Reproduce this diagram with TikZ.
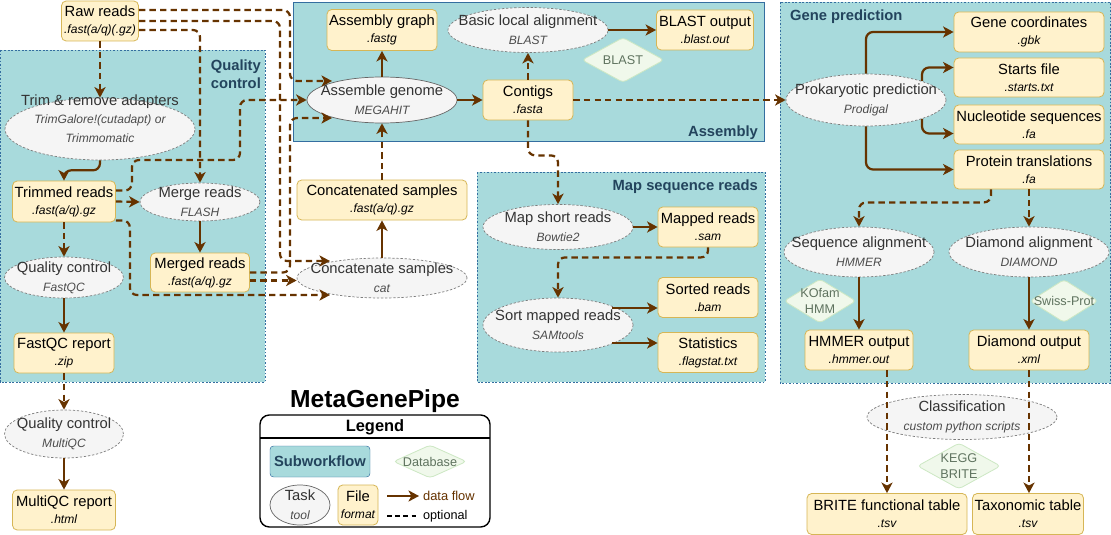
\documentclass[tikz,border=0pt]{standalone}
\usepackage{fontspec}
\setmainfont{Liberation Sans}
\usetikzlibrary{shapes.geometric,arrows.meta,calc}

\definecolor{grpfill}{RGB}{168,218,220}
\definecolor{grpline}{RGB}{52,110,160}
\definecolor{grptext}{RGB}{35,68,93}
\definecolor{filefill}{RGB}{255,242,204}
\definecolor{fileline}{RGB}{214,182,86}
\definecolor{taskfill}{RGB}{245,245,245}
\definecolor{taskline}{RGB}{102,102,102}
\definecolor{dbfill}{RGB}{240,248,235}
\definecolor{dbline}{RGB}{205,232,196}
\definecolor{dbtext}{RGB}{95,115,95}
\definecolor{flowc}{RGB}{102,51,0}

\newcommand{\fileext}[1]{{\fontsize{10.3}{12}\selectfont\itshape #1}}
\newcommand{\toolname}[1]{{\fontsize{10.3}{12}\selectfont\itshape\color{black!70}#1}}

\begin{document}
\begin{tikzpicture}[x=0.03cm, y=-0.03cm,
    font=\fontsize{12.6}{14.5}\selectfont,
    wh/.style 2 args={minimum width=#1*0.03cm, minimum height=#2*0.03cm},
    file/.style={draw=fileline, fill=filefill, rounded corners=4pt, line width=0.7pt, align=center, inner sep=0pt},
    task/.style={ellipse, draw=taskline, fill=taskfill, line width=0.6pt, inner sep=0pt},
    opttask/.style={task, draw=taskline!85, dash pattern=on 2pt off 1.5pt},
    tl/.style={align=center, text=black!80, font=\fontsize{12.6}{16}\selectfont},
    db/.style={diamond, draw=dbline, fill=dbfill, rounded corners=3pt, inner sep=0pt, line width=0.7pt},
    dbl/.style={align=center, text=dbtext, font=\fontsize{10.8}{13}\selectfont},
    grp/.style={fill=grpfill, draw=grpline, line width=0.5pt, dash pattern=on 1.5pt off 1.5pt},
    grptitle/.style={font=\fontsize{12.6}{15}\selectfont\bfseries, text=grptext, align=center},
    flow/.style={draw=flowc, line width=1.9pt, -{Stealth[length=9pt, width=9.5pt, inset=2.5pt]}, rounded corners=6pt},
    opt/.style={flow, dash pattern=on 5.5pt off 3.5pt},
  ]
  \useasboundingbox (0,0) rectangle (1111,535);

  % subworkflows
  \draw[grp] (0,50) rectangle (265,382);
  \draw[grp, solid, line width=0.7pt] (293,2) rectangle (764,141);
  \draw[grp] (477,172) rectangle (765,382);
  \draw[grp] (780,2) rectangle (1110.5,383);
  \node[grptitle, anchor=north east] (qctitle) at (265,56) {Quality\\control};
  \node[grptitle, anchor=base east] (astitle) at (762,137) {Assembly};
  \node[grptitle, anchor=base east] (mstitle) at (762,190) {Map sequence reads};
  \node[grptitle, anchor=base west] (gptitle) at (786,21) {Gene prediction};

  % quality control
  \node[file, wh={77}{40}] (raw) at (100,21) {Raw reads\\\fileext{.fast(a/q)(.gz)}};
  \node[opttask, wh={190}{62}, label={[tl, yshift=9pt]center:Trim \& remove adapters\\\toolname{TrimGalore!(cutadapt) or}\\\toolname{Trimmomatic}}] (trim) at (100,129) {};
  \node[file, wh={103}{41}] (trimmed) at (64,201.5) {Trimmed reads\\\fileext{.fast(a/q).gz}};
  \node[opttask, wh={120}{38}, label={[tl]center:Merge reads\\\toolname{FLASH}}] (merge) at (200,202) {};
  \node[opttask, wh={119}{41}, label={[tl]center:Quality control\\\toolname{FastQC}}] (fastqc) at (64,277.5) {};
  \node[file, wh={99}{39}] (merged) at (200,272.5) {Merged reads\\\fileext{.fast(a/q).gz}};
  \node[file, wh={100}{40}] (qcrep) at (64,353) {FastQC report\\\fileext{.zip}};
  \node[opttask, wh={119}{48}, label={[tl]center:Quality control\\\toolname{MultiQC}}] (multiqc) at (64,434) {};
  \node[file, wh={103}{40}] (mqcrep) at (64,510) {MultiQC report\\\fileext{.html}};

  % concatenation
  \node[file, wh={170}{40}] (catd) at (382,200) {Concatenated samples\\\fileext{.fast(a/q).gz}};
  \node[opttask, wh={170}{40}, label={[tl]center:Concatenate samples\\\toolname{cat}}] (cat) at (382,278) {};

  % assembly
  \node[task, wh={150}{46}, label={[tl]center:Assemble genome\\\toolname{MEGAHIT}}] (asm) at (382,100) {};
  \node[file, wh={110}{41}] (agraph) at (382,30) {Assembly graph\\\fileext{.fastg}};
  \node[opttask, wh={160}{45}, label={[tl]center:Basic local alignment\\\toolname{BLAST}}] (blastn) at (528,30) {};
  \node[file, wh={97}{40}] (blastout) at (705,30) {BLAST output\\\fileext{.blast.out}};
  \node[db, wh={82}{45}, label={[dbl]center:BLAST}] (blastdb) at (623,60) {};
  \node[file, wh={90}{40}] (contigs) at (528,100) {Contigs\\\fileext{.fasta}};

  % mapping
  \node[opttask, wh={150}{45}, label={[tl]center:Map short reads\\\toolname{Bowtie2}}] (mapsr) at (558,227) {};
  \node[file, wh={100}{40}] (mapped) at (708,227) {Mapped reads\\\fileext{.sam}};
  \node[opttask, wh={150}{54}, label={[tl]center:Sort mapped reads\\\toolname{SAMtools}}] (sortr) at (558,325) {};
  \node[file, wh={100}{40}] (sorted) at (708,297.5) {Sorted reads\\\fileext{.bam}};
  \node[file, wh={100}{40}] (stats) at (708,352.5) {Statistics\\\fileext{.flagstat.txt}};

  % gene prediction
  \node[opttask, wh={160}{52}, label={[tl]center:Prokaryotic prediction\\\toolname{Prodigal}}] (prod) at (866,100) {};
  \node[file, wh={150}{40}] (genec) at (1029,32) {Gene coordinates\\\fileext{.gbk}};
  \node[file, wh={150}{39}] (starts) at (1029,77.5) {Starts file\\\fileext{.starts.txt}};
  \node[file, wh={150}{39}] (nucl) at (1029,124.5) {Nucleotide sequences\\\fileext{.fa}};
  \node[file, wh={150}{39}] (prot) at (1029,169.5) {Protein translations\\\fileext{.fa}};
  \node[opttask, wh={150}{50}, label={[tl]center:Sequence alignment\\\toolname{HMMER}}] (seqal) at (859,252) {};
  \node[opttask, wh={160}{50}, label={[tl]center:Diamond alignment\\\toolname{DIAMOND}}] (diamal) at (1029,252) {};
  \node[db, wh={72}{44}, label={[dbl]center:KOfam\\HMM}] (kofam) at (820,301) {};
  \node[db, wh={68}{43}, label={[dbl]center:Swiss-Prot}] (swiss) at (1064,301) {};
  \node[file, wh={108}{40}] (hmmer) at (859,350) {HMMER output\\\fileext{.hmmer.out}};
  \node[file, wh={120}{40}] (diamout) at (1029,350) {Diamond output\\\fileext{.xml}};
  \node[opttask, wh={190}{45}, label={[tl]center:Classification\\\toolname{custom python scripts}}] (classif) at (962,417) {};
  \node[db, wh={83}{46}, label={[dbl]center:KEGG\\BRITE}] (kegg) at (959,466) {};
  \node[file, wh={160}{41}] (brite) at (887,514) {BRITE functional table\\\fileext{.tsv}};
  \node[file, wh={111}{41}] (taxo) at (1028,514) {Taxonomic table\\\fileext{.tsv}};

  % legend
  \node[font=\fontsize{21}{24}\selectfont\bfseries] (title) at (375,401) {MetaGenePipe};
  \draw[rounded corners=8pt, line width=1.2pt, fill=white] (260,415) rectangle (490,527);
  \draw[line width=1.2pt] (260,438) -- (490,438);
  \node[font=\fontsize{14}{16}\selectfont\bfseries] (lgtitle) at (375,427) {Legend};
  \node[draw=grpline, fill=grpfill, rounded corners=3pt, wh={100}{31}, font=\fontsize{12.6}{15}\selectfont\bfseries, text=grptext] (lgsub) at (320,461.5) {Subworkflow};
  \node[db, wh={73}{33}, label={[dbl]center:Database}] (lgdb) at (430,461.5) {};
  \node[task, wh={60}{40}, label={[tl]center:Task\\\toolname{tool}}] (lgtask) at (300,505) {};
  \node[file, wh={40}{40}] (lgfile) at (358,505) {File\\\fileext{format}};
  \coordinate (lgfs) at (387,496);
  \node[anchor=west, text=flowc, font=\fontsize{11}{13}\selectfont] (lgflow) at (419,496) {data flow};
  \draw[flow] (lgfs) -- (lgflow.west);
  \coordinate (lgos) at (387,516);
  \node[anchor=west, font=\fontsize{10.8}{13}\selectfont] (lgopt) at (419,516) {optional};
  \draw[dash pattern=on 4pt off 3pt, line width=1.3pt] (lgos) -- (lgopt.west);

  % quality control flows
  \draw[opt] (raw) -- (trim);
  \draw[flow] (trim.south) -- ++(0,10) -| (trimmed.north);
  \draw[opt] (trimmed.east) -- (merge.west);
  \draw[opt] (trimmed) -- (fastqc);
  \draw[flow] (fastqc) -- (qcrep);
  \draw[opt] (qcrep) -- (multiqc);
  \draw[flow] (multiqc) -- (mqcrep);
  \draw[flow] (merge) -- (merged);
  \draw[opt] ($(raw.east)+(0,9)$) -| (merge.north);

  % into assembly and concatenation
  \draw[opt] ($(raw.east)+(0,-11)$) -| (290,81) -- ($(asm.center)+(-50,-19)$);
  \draw[opt] (raw.east) -| (280,261) -- ($(cat.center)+(-52,-17)$);
  \draw[opt] ($(trimmed.east)+(0,-11)$) -- ++(16,0) |- (240,160) |- (asm.west);
  \draw[opt] ($(trimmed.east)+(0,19)$) -- ++(14,0) |- ($(cat.center)+(-52,17)$);
  \draw[opt] (merged.east) -| (290,118) -- ($(asm.center)+(-50,18)$);
  \draw[opt] ($(merged.east)+(0,8)$) -- ($(cat.west)+(0,2.5)$);
  \draw[flow] (cat) -- (catd);
  \draw[opt] (catd) -- (asm);

  % assembly flows
  \draw[flow] (asm) -- (agraph);
  \draw[flow] (asm) -- (contigs);
  \draw[opt] (contigs) -- (blastn);
  \draw[flow] (blastn) -- (blastout);
  \draw[opt] (contigs.south) -- ++(0,35) -| (mapsr.north);
  \draw[opt] (contigs) -- (prod);

  % mapping flows
  \draw[flow] (mapsr) -- (mapped);
  \draw[opt] (mapped.south) -- ++(0,10) -| (sortr.north);
  \draw[flow] ($(sortr.center)+(54,-17)$) -- ($(sorted.west)+(0,10.5)$);
  \draw[flow] ($(sortr.center)+(54,18)$) -- ($(stats.west)+(0,-9.5)$);

  % gene prediction flows
  \draw[flow] (prod.north) |- (genec.west);
  \draw[flow] ($(prod.center)+(56,-19)$) |- ($(starts.west)+(0,-10)$);
  \draw[flow] ($(prod.center)+(56,19)$) |- ($(nucl.west)+(0,9)$);
  \draw[flow] (prod.south) |- (prot.west);
  \draw[opt] ($(prot.south)+(-38,0)$) -- ++(0,13) -| (seqal.north);
  \draw[opt] (prot) -- (diamal);
  \draw[flow] (seqal) -- (hmmer);
  \draw[flow] (diamal) -- (diamout);
  \draw[opt] (hmmer.south -| brite.north) -- (brite.north);
  \draw[opt] (diamout.south) -- (diamout.south |- taxo.north);
\end{tikzpicture}
\end{document}
